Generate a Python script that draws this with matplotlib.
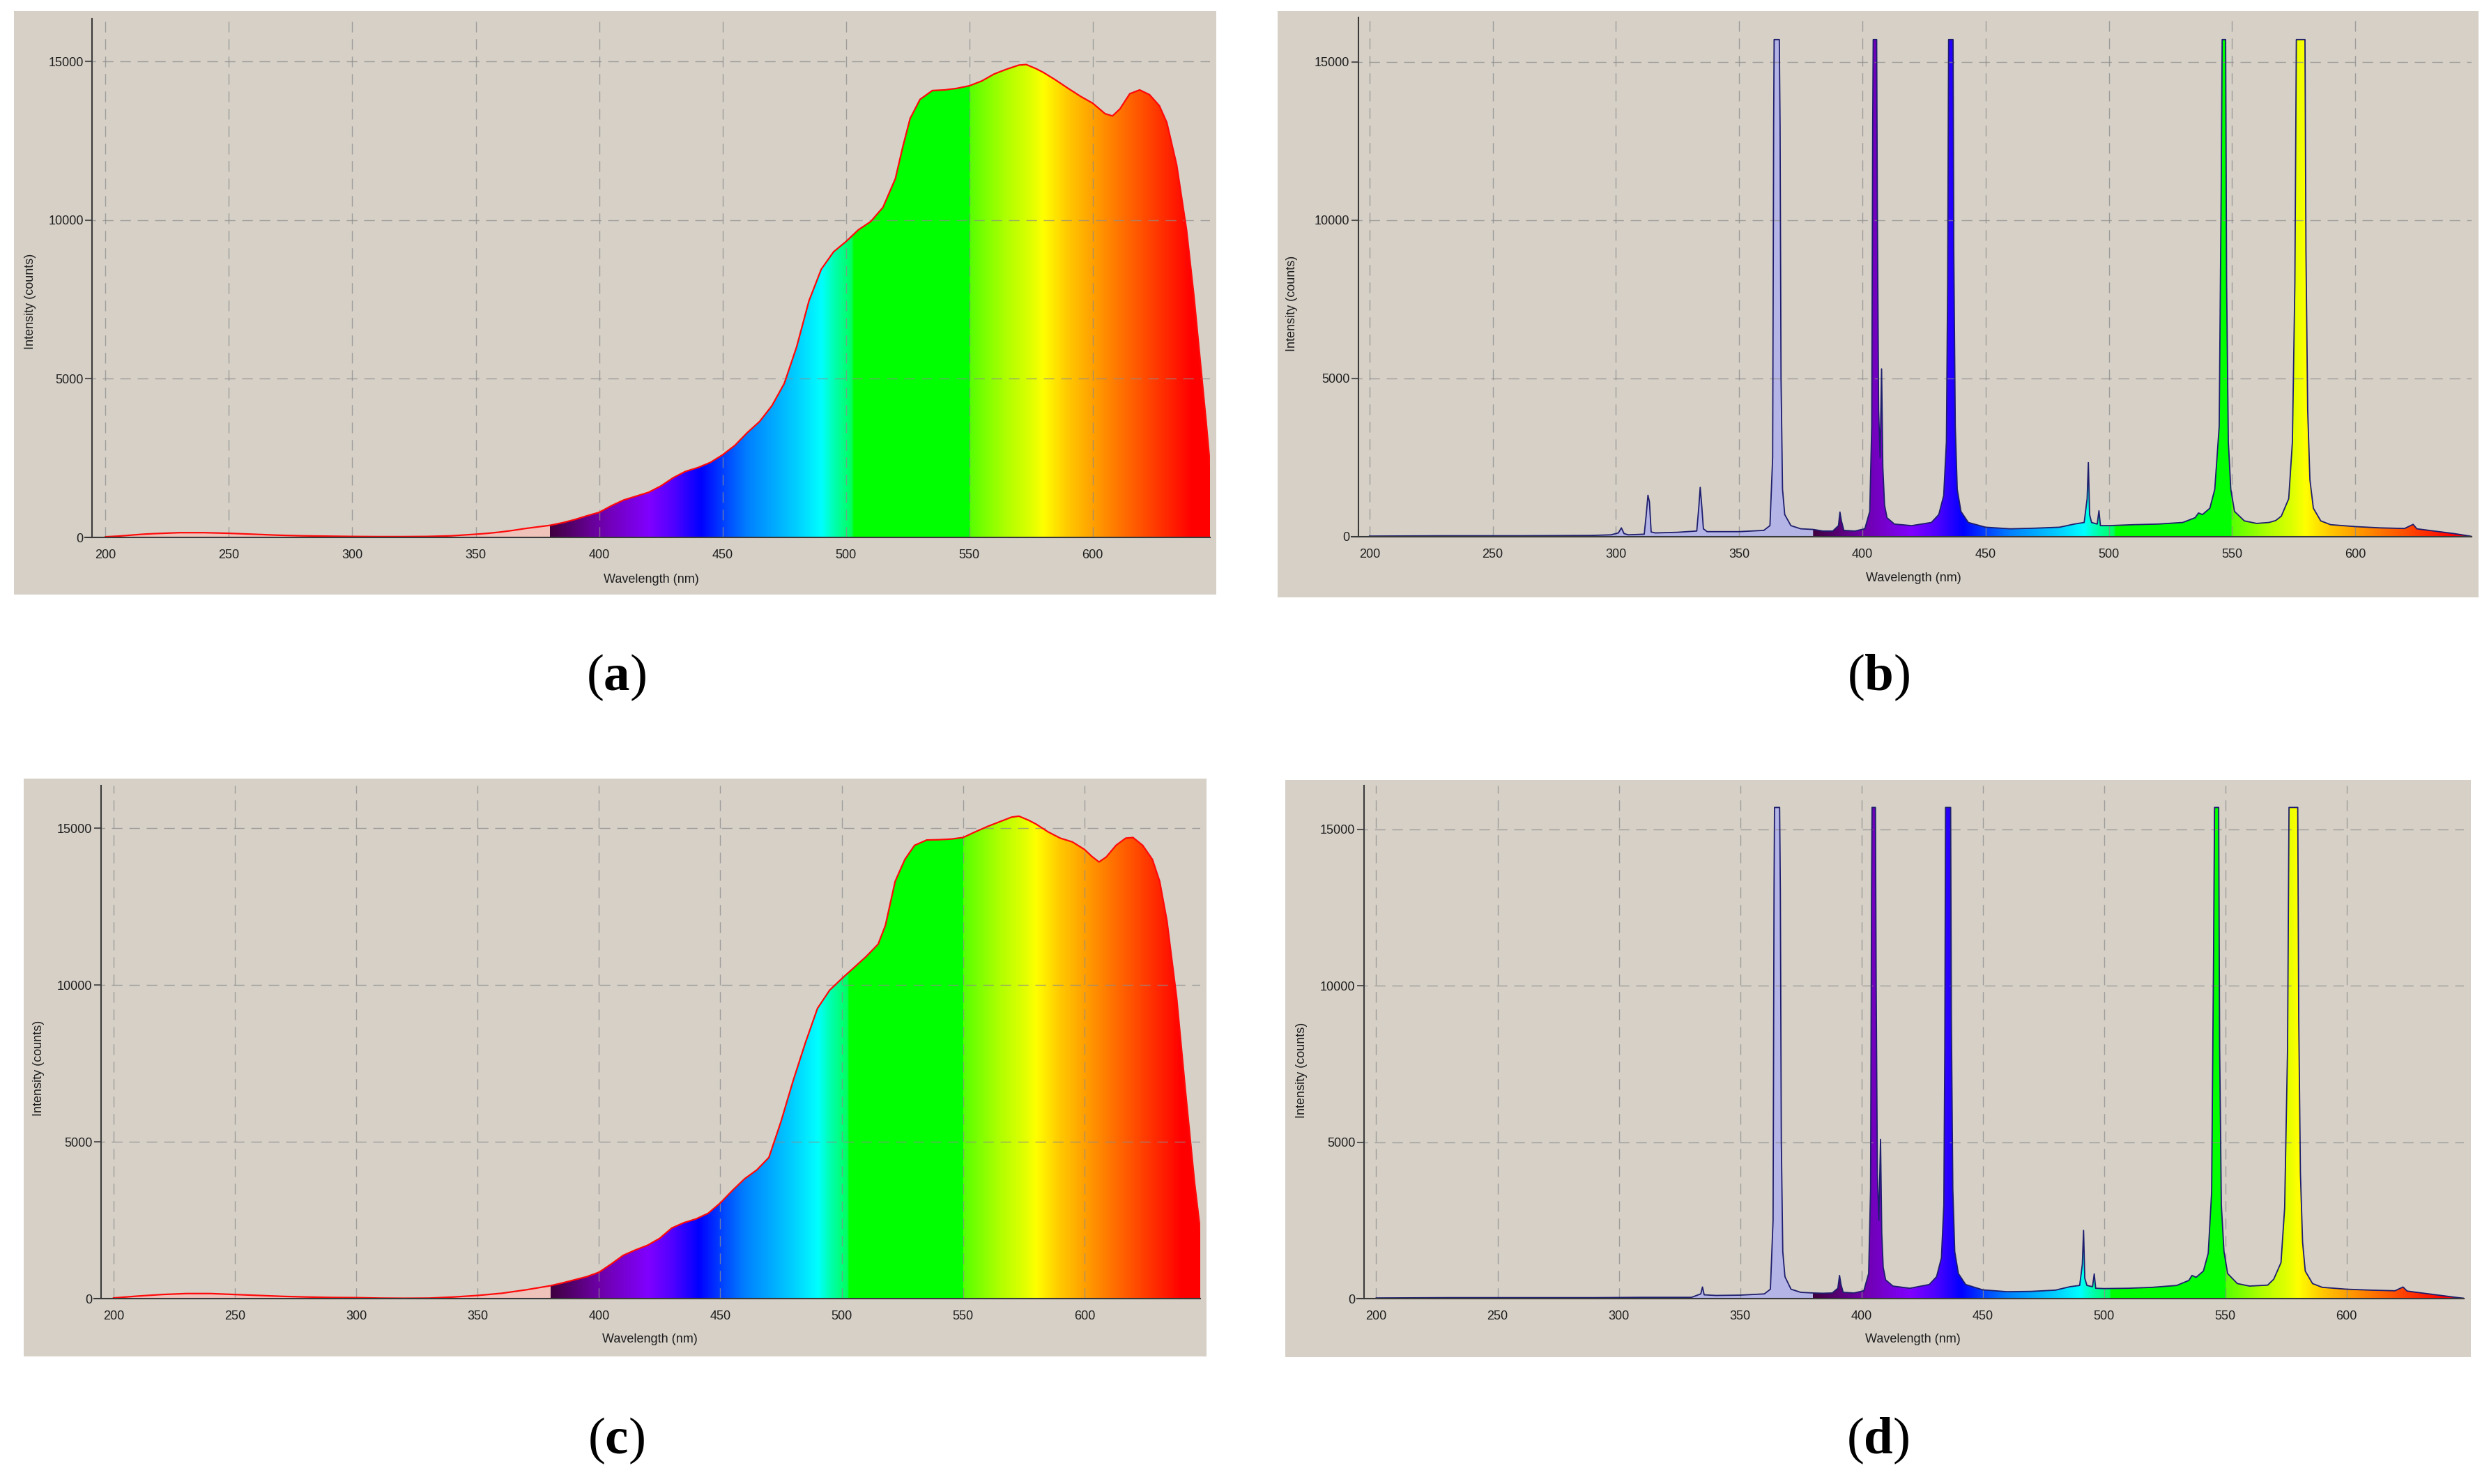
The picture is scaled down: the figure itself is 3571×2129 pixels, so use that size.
import numpy as np
import matplotlib.pyplot as plt
from matplotlib.colors import LinearSegmentedColormap, Normalize
from matplotlib.patches import Rectangle

plt.rcParams['font.family'] = ['Liberation Sans', 'DejaVu Sans']
plt.rcParams['mathtext.fontset'] = 'custom'
plt.rcParams['mathtext.rm'] = 'Liberation Serif'
plt.rcParams['mathtext.bf'] = 'Liberation Serif:bold'

W, H = 3571, 2129

XTICKS = [200, 250, 300, 350, 400, 450, 500, 550, 600]
YTICKS = [0, 5000, 10000, 15000]
XLABEL = 'Wavelength (nm)'
YLABEL = 'Intensity (counts)'

# broadband source, panel (a)
wl_a = np.array([200, 205, 210, 215, 220, 230, 240, 250, 260, 270, 280, 290, 300, 310, 320,
                 330, 340, 350, 355, 360, 365, 370, 375, 380, 385, 390, 395, 400, 405, 410,
                 415, 420, 425, 430, 435, 440, 445, 450, 455, 460, 465, 470, 475, 480, 485,
                 490, 495, 500, 505, 510, 515, 520, 523, 526, 530, 535, 540, 545, 550, 555,
                 560, 565, 570, 573, 577, 580, 585, 590, 595, 600, 605, 608, 611, 615, 619,
                 623, 627, 630, 634, 638, 641, 644, 646, 647.5])
int_a = np.array([20, 40, 70, 100, 120, 150, 150, 130, 100, 70, 50, 40, 30, 25, 25,
                  30, 50, 100, 130, 170, 220, 280, 330, 380, 460, 560, 680, 790, 1000, 1180,
                  1300, 1420, 1620, 1880, 2080, 2200, 2360, 2600, 2900, 3300, 3650, 4150, 4850, 6000, 7450,
                  8450, 9000, 9320, 9690, 9950, 10400, 11300, 12300, 13200, 13800, 14080, 14100, 14150, 14230, 14380,
                  14600, 14750, 14880, 14900, 14770, 14650, 14410, 14150, 13900, 13680, 13350, 13280, 13500, 13980, 14100,
                  13950, 13600, 13075, 11740, 9690, 7600, 5200, 3600, 2300])

# broadband source, panel (c)
wl_c = np.array([200, 210, 220, 230, 240, 250, 260, 270, 280, 290, 300, 310, 320, 330, 340,
                 350, 360, 370, 380, 385, 390, 395, 400, 405, 410, 415, 420, 425, 430, 435,
                 440, 445, 450, 455, 460, 465, 470, 475, 480, 485, 490, 495, 500, 505, 510,
                 515, 518, 522, 526, 530, 535, 540, 545, 550, 555, 560, 565, 570, 573, 577,
                 580, 585, 590, 595, 600, 603, 606, 609, 613, 617, 620, 624, 628, 631, 634,
                 638, 641.6, 645.4, 647.7])
int_c = np.array([20, 80, 130, 160, 160, 130, 100, 70, 50, 35, 30, 15, 10, 15, 50,
                  100, 170, 280, 410, 500, 600, 700, 840, 1100, 1380, 1550, 1700, 1920, 2250, 2420,
                  2540, 2720, 3050, 3450, 3820, 4100, 4500, 5650, 6950, 8150, 9250, 9830, 10200, 10550, 10900,
                  11300, 11900, 13300, 14000, 14450, 14620, 14630, 14650, 14700, 14880, 15050, 15200, 15350, 15380, 15250,
                  15130, 14880, 14680, 14560, 14320, 14100, 13920, 14080, 14450, 14680, 14700, 14450, 14000, 13300, 12040,
                  9580, 6630, 3670, 2190])

# line source, panel (b)
wl_b = np.array([200, 230, 260, 290, 298, 301, 302.2, 303.3, 305, 311.5, 312.3, 313.0, 313.6, 314.3, 316,
                 325, 332.8, 333.6, 334.2, 334.8, 335.5, 337, 350, 360, 362.5, 363.6, 364.0, 364.2, 366.3, 366.6,
                 367.0, 367.6, 368.5, 371, 375, 380, 384, 388, 390.3, 390.9, 391.5, 392.5, 397, 401, 403,
                 403.8, 404.2, 404.4, 405.8, 406.1, 406.6, 407.2, 407.8, 408.3, 409, 410, 413, 420, 428, 431,
                 433, 434.1, 434.6, 435.0, 436.8, 437.1, 437.7, 438.5, 440, 443, 450, 460, 470, 480, 486,
                 490, 491.2, 491.7, 492.2, 493, 495.3, 496.0, 496.6, 500, 510, 520, 530, 535, 536.4, 538,
                 541, 543, 544.8, 545.6, 546.0, 547.4, 547.8, 548.5, 549.5, 551, 555, 560, 565, 567.7, 570,
                 573, 574.5, 575.5, 576.1, 579.6, 580.0, 580.7, 581.6, 583, 586, 590, 600, 610, 620, 623.5,
                 625, 630, 635, 640, 645, 647.2])
int_b = np.array([20, 30, 30, 40, 60, 120, 280, 100, 60, 80, 700, 1310, 1100, 150, 120,
                  140, 180, 900, 1560, 1000, 250, 160, 160, 200, 350, 2500, 13000, 15700, 15700, 13000,
                  5000, 1500, 700, 350, 250, 230, 180, 180, 350, 780, 500, 200, 180, 250, 800,
                  3500, 13000, 15700, 15700, 10000, 4000, 2500, 5300, 2200, 1000, 600, 400, 350, 450, 700,
                  1300, 3000, 8000, 15700, 15700, 9000, 3500, 1500, 800, 450, 300, 250, 270, 300, 400,
                  450, 1200, 2340, 700, 450, 400, 820, 350, 350, 380, 400, 450, 600, 750, 700,
                  900, 1500, 3500, 11000, 15700, 15700, 8000, 3000, 1500, 800, 500, 420, 450, 510, 650,
                  1200, 3000, 8000, 15700, 15700, 9000, 4000, 1800, 900, 500, 380, 320, 280, 260, 390,
                  250, 200, 150, 100, 40, 10])

# line source, panel (d)
wl_d = np.array([200, 230, 260, 290, 310, 330, 333.8, 334.5, 335.2, 340, 350, 360, 362.5, 363.6, 364.0,
                 364.2, 366.3, 366.6, 367.0, 367.6, 368.5, 371, 375, 380, 384, 388, 390.3, 391.0, 391.6,
                 392.5, 397, 401, 403, 403.8, 404.2, 404.4, 405.8, 406.1, 406.6, 407.2, 407.9, 408.4, 409,
                 410, 413, 420, 428, 431, 433, 434.0, 434.4, 434.7, 436.8, 437.1, 437.7, 438.5, 440, 443,
                 450, 460, 470, 480, 486, 490, 491.1, 491.6, 492.1, 493, 495.3, 496.0, 496.6, 500, 510,
                 520, 530, 535, 536.3, 538, 541, 543, 544.4, 545.2, 545.6, 547.3, 547.7, 548.4, 549.5, 551,
                 555, 560, 565, 567.5, 570, 573, 574.5, 575.7, 576.3, 579.9, 580.3, 581.0, 581.9, 583, 586,
                 590, 600, 610, 620, 623.3, 625, 630, 635, 640, 645, 648.4])
int_d = np.array([20, 30, 30, 30, 40, 40, 150, 370, 120, 100, 110, 150, 300, 2500, 13000,
                  15700, 15700, 13000, 5000, 1500, 700, 300, 200, 180, 170, 180, 330, 740, 450,
                  200, 180, 250, 800, 3500, 13000, 15700, 15700, 10000, 4000, 2500, 5090, 2100, 1000,
                  600, 400, 330, 450, 700, 1300, 3000, 8000, 15700, 15700, 9000, 3500, 1500, 800, 450,
                  280, 220, 230, 270, 380, 420, 1100, 2180, 650, 420, 380, 790, 330, 320, 330,
                  360, 420, 580, 740, 680, 880, 1450, 3400, 11000, 15700, 15700, 8000, 3000, 1500, 800,
                  480, 400, 420, 430, 620, 1150, 2900, 8000, 15700, 15700, 9000, 4000, 1800, 880, 480,
                  360, 300, 270, 250, 370, 240, 190, 140, 90, 40, 10])

# colours of the spectrum fill, by wavelength
GRAD_WL = [380, 400, 420, 430, 441, 450, 460, 470, 480, 490, 495, 502, 503,
           549.9, 550.1, 565, 575, 580, 590, 600, 610, 620, 630, 640, 649]
GRAD_COL = ['#400040', '#6e00a8', '#8000ff', '#5000ff', '#0000ff', '#0040ff', '#0080ff',
            '#00a8ff', '#00d0ff', '#00ffff', '#00ffb0', '#00ff60', '#00ff00',
            '#00ff00', '#58ff00', '#b0ff00', '#e0ff00', '#ffff00', '#ffc800', '#ffa000',
            '#ff7800', '#ff5000', '#ff2800', '#ff0000', '#ff0000']

BOX_BG = '#d6d0c7'
GRID_COL = '#8c8c8c'
TXT_COL = '#1e1e1e'

pos = [(w - GRAD_WL[0]) / (GRAD_WL[-1] - GRAD_WL[0]) for w in GRAD_WL]
spec_cmap = LinearSegmentedColormap.from_list('spec', list(zip(pos, GRAD_COL)), N=1024)
spec_norm = Normalize(GRAD_WL[0], GRAD_WL[-1])

fig = plt.figure(figsize=(W / 100, H / 100), dpi=100)


def fx(px):
    return px / W


def fy(py):
    return 1 - py / H


def panel(box, ax_px, xleft, spine_x, ytop, wl, counts, line_col, line_w, low_col,
          ylab_px, xlab_px, cap, cap_px):
    bx0, by0, bx1, by1 = box
    fig.add_artist(Rectangle((fx(bx0), fy(by1)), (bx1 - bx0) / W, (by1 - by0) / H,
                             transform=fig.transFigure, facecolor=BOX_BG,
                             edgecolor='none', zorder=-5))
    l, t, r, b = ax_px
    ax = fig.add_axes([fx(l), fy(b), (r - l) / W, (b - t) / H])
    ax.set_facecolor('none')

    # pale fill under the UV part
    uv = wl <= 380
    ax.fill_between(wl[uv], 0, counts[uv], color=low_col, lw=0, zorder=1)

    # rainbow fill under the visible part
    vis = wl >= 380
    poly = ax.fill_between(wl[vis], 0, counts[vis], facecolor='none', edgecolor='none')
    ramp = np.linspace(380, wl[-1], 900)[None, :]
    im = ax.imshow(ramp, extent=(380, wl[-1], 0, ytop), origin='lower', aspect='auto',
                   cmap=spec_cmap, norm=spec_norm, interpolation='bilinear', zorder=1)
    im.set_clip_path(poly.get_paths()[0], transform=ax.transData)

    ax.plot(wl, counts, color=line_col, lw=line_w, zorder=3)

    ax.set_xlim(xleft, wl[-1])
    ax.set_ylim(0, ytop)
    ax.set_xticks(XTICKS)
    ax.set_yticks(YTICKS)
    ax.set_xticklabels([str(v) for v in XTICKS])
    ax.set_yticklabels([str(v) for v in YTICKS])

    ax.spines[['top', 'right']].set_visible(False)
    ax.spines['left'].set_position(('data', spine_x))
    for s in ('left', 'bottom'):
        ax.spines[s].set_color('#3a3a3a')
        ax.spines[s].set_linewidth(1.5)
        ax.spines[s].set_zorder(4)

    ax.grid(True, color=GRID_COL, linestyle=(0, (11, 7)), linewidth=1.0, alpha=0.75)
    ax.set_axisbelow(False)
    ax.tick_params(axis='x', length=0, pad=12, labelsize=13, labelcolor=TXT_COL)
    ax.tick_params(axis='y', length=7, width=1.1, color='#3a3a3a', pad=2,
                   labelsize=13, labelcolor=TXT_COL)

    fig.text(fx(ylab_px[0]), fy(ylab_px[1]), YLABEL, rotation=90, ha='center', va='center',
             fontsize=13, color=TXT_COL)
    fig.text(fx(xlab_px[0]), fy(xlab_px[1]), XLABEL, ha='center', va='center',
             fontsize=13, color=TXT_COL)
    fig.text(fx(cap_px[0]), fy(cap_px[1]), r'$\mathrm{(}\mathbf{' + cap + r'}\mathrm{)}$',
             ha='center', va='center', fontsize=54, color='black')
    return ax


panel((20, 16, 1745, 853), (122, 27, 1736, 771), 191.7, 194.6, 16340,
      wl_a, int_a, '#ff0a0a', 1.6, '#efc2ba', (43, 432), (934, 831), 'a', (884, 972))
panel((1833, 16, 3556, 857), (1939, 25, 3546, 770), 192.7, 195.5, 16400,
      wl_b, int_b, '#1e1e6e', 1.3, '#b4b4e6', (1853, 435), (2745, 830), 'b', (2695, 972))
panel((34, 1117, 1731, 1946), (135, 1127, 1722, 1863), 192.0, 194.8, 16356,
      wl_c, int_c, '#ff0a0a', 1.6, '#efc2ba', (56, 1532), (932, 1921), 'c', (884, 2067))
panel((1844, 1119, 3545, 1947), (1947, 1127, 3535, 1863), 192.1, 194.97, 16400,
      wl_d, int_d, '#1e1e6e', 1.3, '#b4b4e6', (1867, 1535), (2744, 1922), 'd', (2694, 2067))

fig.savefig('out.png', dpi=100, facecolor='white')
